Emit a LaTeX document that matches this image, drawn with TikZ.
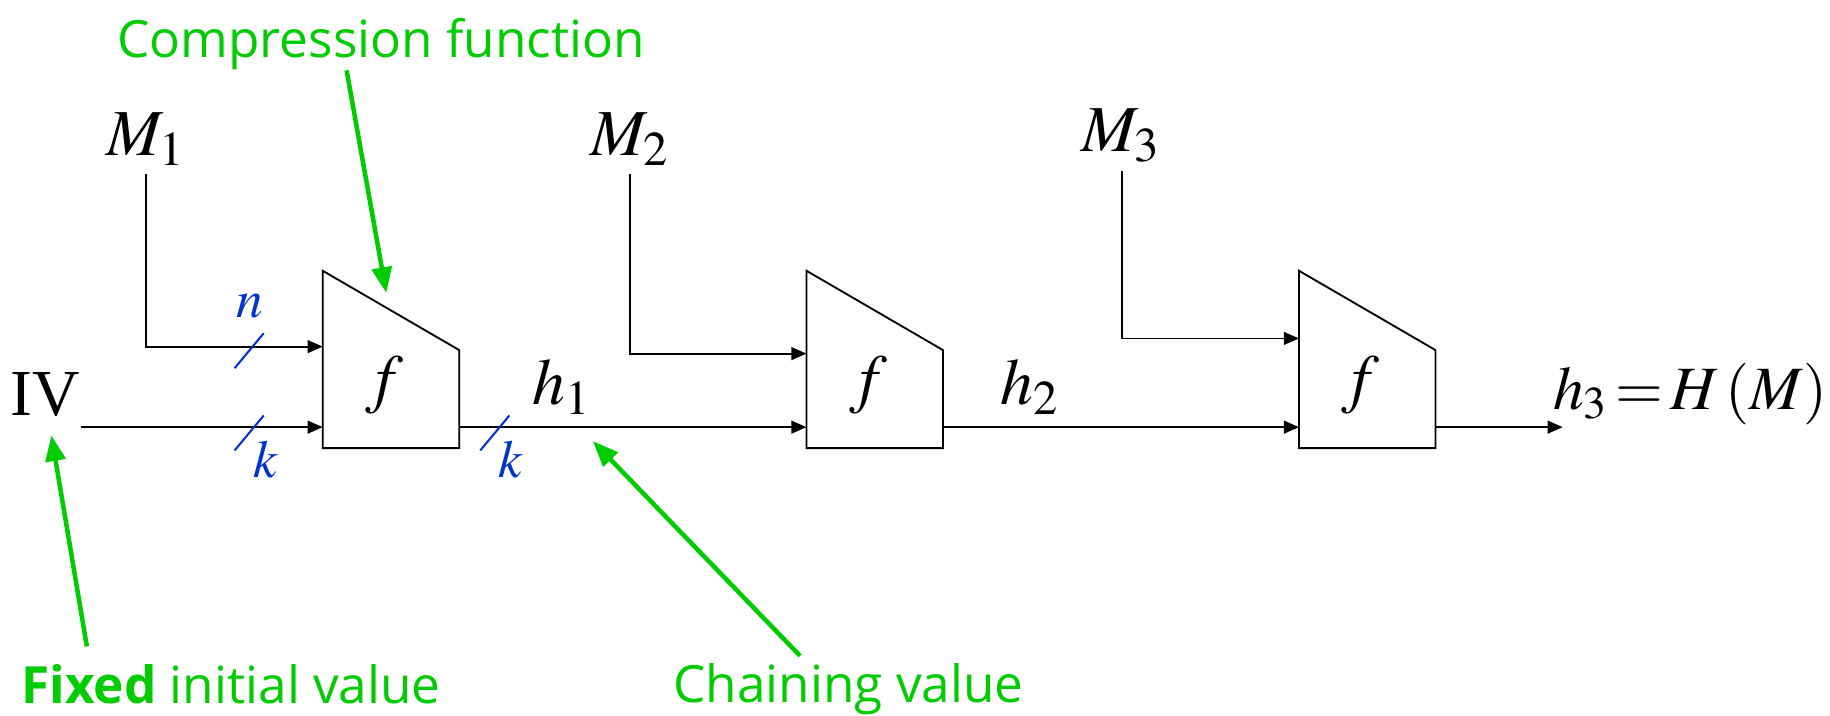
\documentclass[tikz,border=0pt]{standalone}
\usepackage{mathptmx}
\usepackage{fontspec}
\setmainfont{Liberation Serif}
\newfontfamily\annofont{Open Sans}
\usetikzlibrary{arrows.meta}

\definecolor{annogreen}{RGB}{0,204,0}
\definecolor{bitblue}{RGB}{0,51,204}

\begin{document}
\begin{tikzpicture}[
  x=0.01cm, y=-0.01cm,
  wire/.style={line width=0.45pt, -{Triangle[length=1.3mm,width=1.1mm]}},
  cbox/.style={line width=0.45pt, line join=miter},
  lbl/.style={inner sep=2pt, font=\fontsize{16}{19}\selectfont},
  bitmark/.style={draw=bitblue, line width=0.5pt},
  bitlbl/.style={inner sep=0pt, text=bitblue, font=\fontsize{13}{15}\selectfont},
  annot/.style={inner sep=0pt, text=annogreen, font=\annofont\fontsize{12.5}{15}\selectfont},
  annotarrow/.style={draw=annogreen, line width=1.1pt, -{Triangle[length=2.2mm,width=1.7mm]}}
]
\useasboundingbox (0,0) rectangle (1568,613);

% compression boxes
\foreach \i/\x/\y in {1/276.5/297, 2/691/303, 3/1113/290} {
  \draw[cbox] (\x,232) -- ++(117,68) -- ++(0,84) -- ++(-117,0) -- cycle;
  \node[lbl, anchor=base] (f\i) at (\x+53,343) {$f$};
  \coordinate (f\i-msg) at (\x,\y);
  \coordinate (f\i-cv) at (\x,366);
  \coordinate (f\i-out) at (\x+117,366);
}

% message blocks and chaining values
\node[lbl, anchor=base] (m1) at (125,133) {$M_1$};
\node[lbl, anchor=base] (m2) at (540,133) {$M_2$};
\node[lbl, anchor=base] (m3) at (961,130) {$M_3$};
\node[lbl, anchor=base, inner sep=0pt] (iv) at (39,356) {IV};
\node[lbl, anchor=base] (h1) at (482,347) {$h_1$};
\node[lbl, anchor=base] (h2) at (883,347) {$h_2$};
\node[lbl, anchor=base west, inner sep=0pt, font=\fontsize{15}{18}\selectfont] (hash) at (1330,351) {$h_3\,{=}\,H\,(M)$};
\coordinate (out) at (1339,366);

\draw[wire] (m1) |- (f1-msg);
\draw[wire] (m2) |- (f2-msg);
\draw[wire] (m3) |- (f3-msg);
\draw[wire] (iv.east |- f1-cv) -- (f1-cv);
\draw[wire] (f1-out) -- (f2-cv);
\draw[wire] (f2-out) -- (f3-cv);
\draw[wire] (f3-out) -- (out);

% bit widths
\foreach \p/\q in {213.5/300.5, 213.5/371, 424/371}
  \draw[bitmark] (\p-12.5,\q+15) -- (\p+12.5,\q-15);
\node[bitlbl, anchor=base] (nlbl) at (214,272) {$n$};
\node[bitlbl, anchor=base] (klbl1) at (228,409) {$k$};
\node[bitlbl, anchor=base] (klbl2) at (438,409) {$k$};

% annotations
\node[annot, anchor=base] (cf) at (326.5,49) {Compression function};
\node[annot, anchor=base] (fixed) at (198,603) {\textbf{Fixed} initial value};
\node[annot, anchor=base] (chain) at (727,602) {Chaining value};
\coordinate (cf-tip) at (331,251);
\coordinate (iv-tip) at (44,373);
\coordinate (cv-tip) at (508,378);
\draw[annotarrow] ([xshift=-0.295cm]cf.south) -- (cf-tip);
\draw[annotarrow] ([xshift=-1.235cm,yshift=0.15cm]fixed.north) -- (iv-tip);
\draw[annotarrow] ([xshift=-0.415cm,yshift=0.06cm]chain.north) -- (cv-tip);

\end{tikzpicture}
\end{document}
